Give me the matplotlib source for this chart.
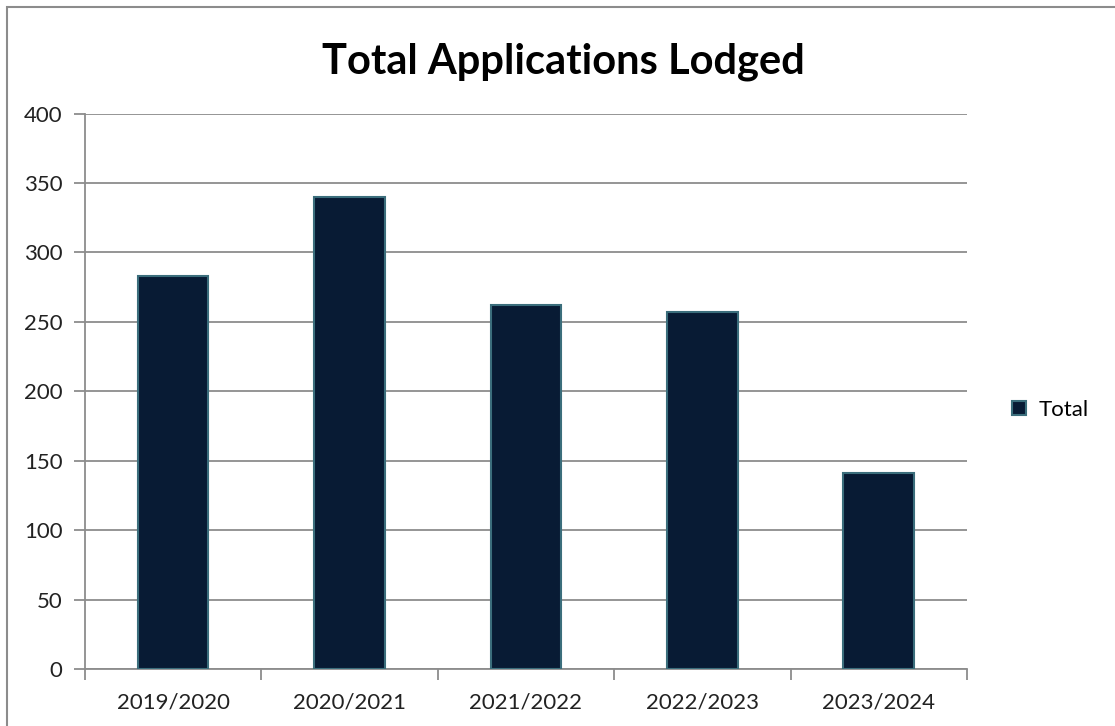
import matplotlib.pyplot as plt
from matplotlib.patches import Rectangle

# values
seasons = ["2019/2020", "2020/2021", "2021/2022", "2022/2023", "2023/2024"]
totals = [283, 340, 262, 257, 141]
y_ticks = [0, 50, 100, 150, 200, 250, 300, 350, 400]

BAR_FILL = "#081b34"
BAR_EDGE = "#3b6e7c"
GRID = "#8c8c8c"

plt.rcParams["font.family"] = ["Lato", "DejaVu Sans"]

fig = plt.figure(figsize=(11.15, 7.26), dpi=100)
ax = fig.add_axes([0.0762, 0.0785, 0.791, 0.765])

x = list(range(len(seasons)))
ax.bar(x, totals, width=0.4, color=BAR_FILL, edgecolor=BAR_EDGE, linewidth=1.5,
       label="Total", zorder=3)

ax.set_xlim(-0.5, len(seasons) - 0.5)
ax.set_ylim(0, 400)
ax.set_yticks(y_ticks)
ax.set_yticklabels([str(v) for v in y_ticks], fontsize=16, color="#222222")
ax.yaxis.grid(True, color=GRID, lw=1.3, zorder=0)

# category labels centred, tick marks at the boundaries
ax.set_xticks(x)
ax.set_xticklabels(seasons, fontsize=16, color="#222222")
ax.tick_params(axis="x", length=0, pad=17)
ax.set_xticks([i - 0.5 for i in range(len(seasons) + 1)], minor=True)
ax.tick_params(axis="x", which="minor", length=8, width=1.3, color=GRID, direction="out")
ax.tick_params(axis="y", length=8, width=1.3, color=GRID, direction="out", pad=8)

for side in ("top", "right"):
    ax.spines[side].set_visible(False)
for side in ("left", "bottom"):
    ax.spines[side].set_color(GRID)
    ax.spines[side].set_linewidth(1.3)

fig.text(0.505, 0.915, "Total Applications Lodged", ha="center", va="center",
         fontsize=30, fontweight="bold", color="black")

fig.legend(loc="center left", bbox_to_anchor=(0.89, 0.435), frameon=False,
           fontsize=16, handlelength=0.6, handleheight=0.6, handletextpad=0.6)

# outer chart border
fig.add_artist(Rectangle((7 / 1115, -0.05), 1.2, 1 - 7 / 726 + 0.05,
                         transform=fig.transFigure, fill=False,
                         edgecolor="#8c8c8c", lw=1.5))

fig.savefig("out.png", dpi=100)
